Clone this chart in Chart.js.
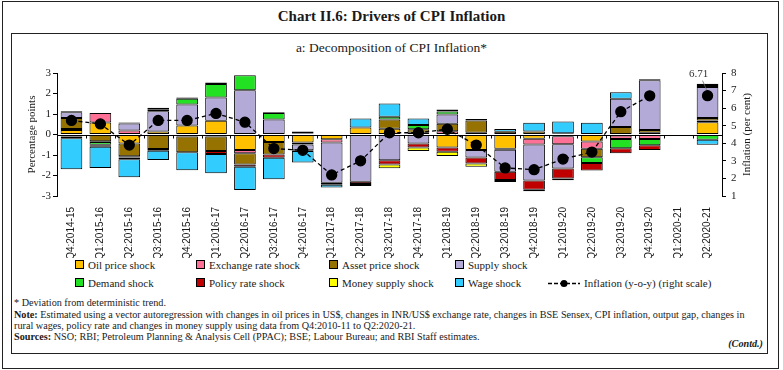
<!DOCTYPE html>
<html>
<head>
<meta charset="utf-8">
<script src="https://cdn.jsdelivr.net/npm/chart.js@4.4.0/dist/chart.umd.min.js"></script>
<style>
  body { margin: 0; background: #fff; }
  #wrap { position: relative; width: 783px; height: 370px; font-family: "Liberation Serif", serif; color: #1a1a1a; }
  #outer { position: absolute; left: 2px; top: 1px; width: 775px; height: 366px; border: 1px solid #222; }
  #inner { position: absolute; left: 11px; top: 33px; width: 755px; height: 319px; border: 1px solid #222; }
  #title { position: absolute; left: 0; top: 8px; width: 783px; text-align: center; font-size: 15px; font-weight: bold; }
  #subtitle { position: absolute; left: 0; top: 40px; width: 783px; text-align: center; font-size: 13.5px; }
  #chartBox { position: absolute; left: 0; top: 58px; width: 783px; height: 200px; }
  .leg { position: absolute; font-size: 11px; white-space: nowrap; line-height: 12px; }
  .sw { display: inline-block; width: 7px; height: 7px; border: 1px solid #000; margin-right: 4px; vertical-align: 0px; }
  .foot { position: absolute; left: 14px; font-size: 10.2px; white-space: nowrap; line-height: 11px; }
</style>
</head>
<body>
<div id="wrap">
  <div id="outer"></div>
  <div id="inner"></div>
  <div id="title">Chart II.6: Drivers of CPI Inflation</div>
  <div id="subtitle">a: Decomposition of CPI Inflation*</div>
  <div id="chartBox"><canvas id="barChart" width="783" height="200"></canvas></div>

  <div class="leg" style="left:75px;top:259px"><span class="sw" style="background:#FFC000"></span>Oil price shock</div>
  <div class="leg" style="left:196px;top:259px"><span class="sw" style="background:#FF7096"></span>Exchange rate shock</div>
  <div class="leg" style="left:329px;top:259px"><span class="sw" style="background:#967200"></span>Asset price shock</div>
  <div class="leg" style="left:455px;top:259px"><span class="sw" style="background:#B4AAD8"></span>Supply shock</div>
  <div class="leg" style="left:75px;top:277px"><span class="sw" style="background:#22E022"></span>Demand shock</div>
  <div class="leg" style="left:196px;top:277px"><span class="sw" style="background:#C00000"></span>Policy rate shock</div>
  <div class="leg" style="left:329px;top:277px"><span class="sw" style="background:#FFFF00"></span>Money supply shock</div>
  <div class="leg" style="left:455px;top:277px"><span class="sw" style="background:#33CCFF"></span>Wage shock</div>
  <div class="leg" style="left:548px;top:277px"><svg width="32" height="9" style="vertical-align:-1px;margin-right:4px"><line x1="0" y1="4.5" x2="32" y2="4.5" stroke="#000" stroke-width="1.5" stroke-dasharray="4,2"/><circle cx="16" cy="4.5" r="3.5" fill="#000"/></svg>Inflation (y-o-y) (right scale)</div>

  <div class="foot" style="top:297px">* Deviation from deterministic trend.</div>
  <div class="foot" style="top:309px"><b>Note:</b> Estimated using a vector autoregression with changes in oil prices in US$, changes in INR/US$ exchange rate, changes in BSE Sensex, CPI inflation, output gap, changes in</div>
  <div class="foot" style="top:320px">rural wages, policy rate and changes in money supply using data from Q4:2010-11 to Q2:2020-21.</div>
  <div class="foot" style="top:331px"><b>Sources:</b> NSO; RBI; Petroleum Planning &amp; Analysis Cell (PPAC); BSE; Labour Bureau; and RBI Staff estimates.</div>
  <div class="foot" style="top:338px;left:auto;right:20px"><b><i>(Contd.)</i></b></div>
</div>

<script>
const quarters = ['Q4:2014-15', 'Q1:2015-16', 'Q2:2015-16', 'Q3:2015-16', 'Q4:2015-16', 'Q1:2016-17',
  'Q2:2016-17', 'Q3:2016-17', 'Q4:2016-17', 'Q1:2017-18', 'Q2:2017-18', 'Q3:2017-18', 'Q4:2017-18',
  'Q1:2018-19', 'Q2:2018-19', 'Q3:2018-19', 'Q4:2018-19', 'Q1:2019-20', 'Q2:2019-20', 'Q3:2019-20',
  'Q4:2019-20', 'Q1:2020-21', 'Q2:2020-21'];

// shock contributions, percentage points (left scale)
const oilShock      = [0.22, 0.58, -0.44, 0.15, 0.44, 0.67, -0.76, -0.36, -0.39, -0.23, 0.34, 0.28, 0.08, -0.63, -0.76, -0.70, -0.21, -0.08, -0.34, -0.05, 0.08, null, 0.60];
const exchangeShock = [0.05, 0.47, 0.20, 0, -0.10, -0.10, -0.16, 0, -0.10, -0.16, -0.04, 0, 0, 0.16, 0.08, -0.04, -0.28, -0.40, -0.36, -0.17, -0.22, null, 0.08];
const assetShock    = [0.54, -0.33, -0.62, -0.71, -0.76, -0.70, -0.54, -0.62, 0, 0, 0, 0.45, 0.18, 0.37, 0.60, 0.14, 0.15, 0.06, -0.41, 0.36, 0.14, null, 0.13];
const supplyShock   = [0.27, -0.04, 0.34, 0.98, 1.02, 1.14, 2.16, 0.73, -0.28, -1.96, -2.26, -1.25, -0.44, 0.44, -0.36, -1.08, -1.75, -1.18, 0, 1.38, 2.43, null, 1.51];
const demandShock   = [-0.10, -0.13, -0.06, 0.08, 0.29, 0.65, 0.73, 0.32, 0.05, 0, 0, 0.13, 0.20, 0.15, 0.08, 0, 0, 0, -0.28, -0.45, -0.30, null, -0.26];
const policyShock   = [0.05, -0.03, -0.09, 0.10, 0.05, -0.15, -0.11, -0.15, -0.04, -0.10, -0.11, -0.21, -0.19, -0.21, -0.29, -0.40, -0.45, -0.49, -0.37, -0.25, -0.24, null, 0.10];
const moneyShock    = [-0.08, -0.07, 0.05, -0.08, 0, 0.08, 0, 0.04, 0.10, 0, -0.10, -0.19, -0.18, -0.21, -0.16, -0.10, -0.08, -0.08, 0, 0, 0.05, null, 0.05];
const wageShock     = [-1.52, -1.03, -0.88, -0.45, -0.88, -0.94, -1.14, -1.05, -0.55, -0.13, 0.44, 0.65, 0.32, 0.10, 0, 0.13, 0.42, 0.57, 0.57, 0.32, 0, null, -0.24];

// CPI inflation y-o-y, per cent (right scale)
const inflation = [5.3, 5.1, 3.9, 5.3, 5.3, 5.7, 5.2, 3.7, 3.6, 2.2, 3.0, 4.6, 4.6, 4.8, 3.9, 2.6, 2.5, 3.1, 3.5, 5.8, 6.7, null, 6.71];

const shockNames = ['Oil price shock', 'Exchange rate shock', 'Asset price shock', 'Supply shock',
  'Demand shock', 'Policy rate shock', 'Money supply shock', 'Wage shock'];
const shockColors = ['#FFC000', '#FF7096', '#967200', '#B4AAD8', '#22E022', '#C00000', '#FFFF00', '#33CCFF'];
const shockData = [oilShock, exchangeShock, assetShock, supplyShock, demandShock, policyShock, moneyShock, wageShock];

const serif = 'Liberation Serif';

function createChart() {
  const ctx = document.getElementById('barChart').getContext('2d');

  const barSets = shockNames.map((name, i) => ({
    type: 'bar',
    label: name,
    data: shockData[i].map(v => (v === 0 ? null : v)),
    backgroundColor: shockColors[i],
    borderColor: '#000',
    borderWidth: 1,
    borderSkipped: false,
    barPercentage: 0.75,
    categoryPercentage: 1,
    yAxisID: 'y',
    order: 2
  }));

  const lineSet = {
    type: 'line',
    label: 'Inflation (y-o-y) (right scale)',
    data: inflation,
    yAxisID: 'y1',
    borderColor: '#000',
    borderWidth: 1.3,
    borderDash: [4, 3],
    pointRadius: 5,
    pointBackgroundColor: '#000',
    pointBorderColor: '#000',
    spanGaps: false,
    order: 1
  };

  const extras = {
    id: 'extras',
    beforeDatasetsDraw(chart) {
      const { ctx, chartArea, scales } = chart;
      const y0 = Math.round(scales.y.getPixelForValue(0)) + 0.5;
      const step = (chartArea.right - chartArea.left) / quarters.length;
      ctx.save();
      ctx.strokeStyle = '#000';
      ctx.lineWidth = 1;
      ctx.beginPath();
      ctx.moveTo(chartArea.left, y0);
      ctx.lineTo(chartArea.right, y0);
      for (let i = 1; i < quarters.length; i++) {
        const x = Math.round(chartArea.left + i * step) + 0.5;
        ctx.moveTo(x, y0);
        ctx.lineTo(x, y0 + 3);
      }
      ctx.stroke();
      ctx.restore();
    },
    afterDatasetsDraw(chart) {
      const { ctx, chartArea } = chart;
      const meta = chart.getDatasetMeta(chart.data.datasets.length - 1);
      const pt = meta.data[quarters.length - 1];
      ctx.save();
      ctx.fillStyle = '#333';
      ctx.font = '11px ' + serif;
      ctx.textAlign = 'center';
      ctx.textBaseline = 'bottom';
      ctx.fillText('6.71', pt.x - 9, pt.y - 16);
      ctx.strokeStyle = '#666';
      ctx.lineWidth = 0.8;
      ctx.beginPath();
      ctx.moveTo(pt.x - 5, pt.y - 15);
      ctx.lineTo(pt.x - 1, pt.y - 6);
      ctx.stroke();

      // right axis title, reading bottom to top
      ctx.fillStyle = '#1a1a1a';
      ctx.textBaseline = 'middle';
      ctx.translate(chartArea.right + 25, (chartArea.top + chartArea.bottom) / 2);
      ctx.rotate(-Math.PI / 2);
      ctx.fillText('Inflation (per cent)', 0, 0);
      ctx.restore();
    }
  };

  const config = {
    data: {
      labels: quarters,
      datasets: [...barSets, lineSet]
    },
    options: {
      responsive: false,
      animation: false,
      layout: { padding: { top: 15, left: 0, right: 0, bottom: 0 } },
      plugins: {
        legend: { display: false },
        tooltip: { enabled: false }
      },
      scales: {
        x: {
          stacked: true,
          grid: { display: false },
          border: { display: false },
          ticks: {
            minRotation: 90, maxRotation: 90, autoSkip: false, padding: 3,
            color: '#1a1a1a', font: { family: 'Liberation Sans', size: 10 }
          },
          afterFit(scale) { scale.height = 62; }
        },
        y: {
          stacked: true,
          position: 'left',
          min: -3, max: 3,
          grid: { drawOnChartArea: false, drawTicks: true, tickLength: 4, color: '#000' },
          border: { display: true, color: '#000' },
          ticks: { stepSize: 1, padding: 2, color: '#1a1a1a', font: { family: serif, size: 11 } },
          title: { display: true, text: 'Percentage points', color: '#1a1a1a', font: { family: serif, size: 11 }, padding: { top: 26, bottom: 0 } },
          afterFit(scale) { scale.width = 57; }
        },
        y1: {
          position: 'right',
          min: 1, max: 8,
          grid: { drawOnChartArea: false, drawTicks: true, tickLength: 4, color: '#000' },
          border: { display: true, color: '#000' },
          ticks: { stepSize: 1, padding: 5, color: '#1a1a1a', font: { family: serif, size: 11 } },
          afterFit(scale) { scale.width = 61; }
        }
      }
    },
    plugins: [extras]
  };

  new Chart(ctx, config);
}

createChart();
</script>
</body>
</html>
